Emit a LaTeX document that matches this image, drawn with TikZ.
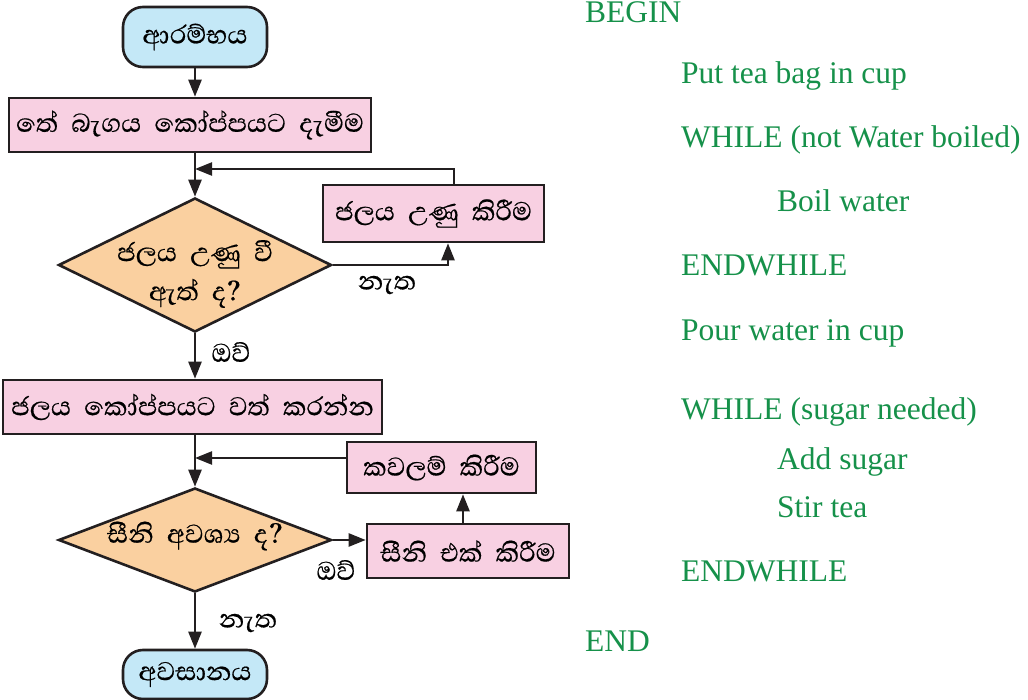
\documentclass[tikz,border=0pt]{standalone}
\usepackage{fontspec}
\setmainfont{Liberation Serif}
\newfontfamily\sinhalafont[Script=Sinhala,FakeBold=0.5]{Abhaya Libre}
\usetikzlibrary{shapes.geometric,arrows.meta}
\definecolor{pinkfill}{RGB}{248,208,226}
\definecolor{orangefill}{RGB}{250,208,160}
\definecolor{bluefill}{RGB}{196,232,247}
\definecolor{linecol}{RGB}{35,31,32}
\definecolor{codegreen}{RGB}{22,145,74}
\tikzset{
  procbox/.style={draw=linecol,line width=2.6pt,fill=pinkfill,rectangle,inner sep=0pt,font=\sinhalafont\fontsize{33}{39}\selectfont},
  termbox/.style={draw=linecol,line width=2.6pt,fill=bluefill,rectangle,rounded corners=20pt,inner sep=0pt,font=\sinhalafont\fontsize{33}{39}\selectfont},
  decbox/.style={draw=linecol,line width=2.6pt,fill=orangefill,diamond,inner sep=0pt},
  dectext/.style={inner sep=0pt,align=center,font=\sinhalafont\fontsize{33}{39}\selectfont},
  arr/.style={draw=linecol,line width=2.4pt,-{Triangle[length=17pt,width=13pt]}},
  lbl/.style={font=\sinhalafont\fontsize{33}{39}\selectfont,inner sep=0pt},
  code/.style={anchor=base west,inner sep=0pt,text=codegreen,font=\fontsize{31.5}{36}\selectfont}
}
\begin{document}
\begin{tikzpicture}[x=1pt,y=-1pt]
\useasboundingbox (0,0) rectangle (1028,700);
% flowchart nodes
\node[termbox,minimum width=144pt,minimum height=60pt] (start) at (195,37) {ආරම්භය};
\node[procbox,minimum width=362pt,minimum height=54pt] (b1) at (190,125) {තේ\hspace{0.4em}බැගය\hspace{0.4em}කෝප්පයට\hspace{0.4em}දැමීම};
\node[decbox,minimum width=273pt,minimum height=134pt] (d1) at (195,265) {};
\node[dectext] (d1t) at (195,274) {ජලය\hspace{0.4em}උණු\hspace{0.4em}වී\\ ඇත්\hspace{0.4em}ද?};
\node[procbox,minimum width=221pt,minimum height=57pt] (b2) at (433.5,213.5) {ජලය\hspace{0.4em}උණු\hspace{0.4em}කිරීම};
\node[procbox,minimum width=379pt,minimum height=54pt] (b3) at (192.5,407) {ජලය\hspace{0.4em}කෝප්පයට\hspace{0.4em}වත්\hspace{0.4em}කරන්න};
\node[decbox,minimum width=273pt,minimum height=104pt] (d2) at (195,540) {};
\node[dectext] (d2t) at (195,536) {සීනි\hspace{0.4em}අවශ්^^^^200dය\hspace{0.4em}ද?};
\node[procbox,minimum width=189pt,minimum height=51pt] (b4) at (441.5,467.5) {කවලම්\hspace{0.4em}කිරීම};
\node[procbox,minimum width=202pt,minimum height=54pt] (b5) at (468,551) {සීනි\hspace{0.4em}එක්\hspace{0.4em}කිරීම};
\node[termbox,minimum width=144pt,minimum height=49pt] (end) at (195,674.5) {අවසානය};
% junction points
\coordinate (j1) at (195,169);
\coordinate (j2) at (195,458);
% connectors
\draw[arr] (start.south) -- (start.south |- b1.north);
\draw[arr] (b1.south -| d1.north) -- (d1.north);
\draw[arr] ([xshift=20.5pt]b2.north) |- (j1);
\draw[arr] (d1.east) -| ([xshift=14.5pt]b2.south);
\draw[arr] (d1.south) -- (d1.south |- b3.north);
\draw[arr] (b3.south -| d2.north) -- (d2.north);
\draw[arr] ([yshift=9.5pt]b4.west) -- (j2);
\draw[arr] ([xshift=-5pt]b5.north) -- ([xshift=-5pt]b5.north |- b4.south);
\draw[arr] (d2.east) -- (d2.east -| b5.west);
\draw[arr] (d2.south) -- (end.north);
% labels
\node[lbl] (l1) at (387,285) {නැත};
\node[lbl] (l2) at (231,352) {ඔව්};
\node[lbl] (l3) at (336,570) {ඔව්};
\node[lbl] (l4) at (248,623) {නැත};
% pseudocode
\node[code] (c1) at (585,23) {BEGIN};
\node[code] (c2) at (681,84) {Put tea bag in cup};
\node[code] (c3) at (681,148) {WHILE (not Water boiled)};
\node[code] (c4) at (777,212) {Boil water};
\node[code] (c5) at (681,276) {ENDWHILE};
\node[code] (c6) at (681,341) {Pour water in cup};
\node[code] (c7) at (681,420) {WHILE (sugar needed)};
\node[code] (c8) at (777,469) {Add sugar};
\node[code] (c9) at (777,517) {Stir tea};
\node[code] (c10) at (681,581) {ENDWHILE};
\node[code] (c11) at (585,651) {END};
\end{tikzpicture}
\end{document}
